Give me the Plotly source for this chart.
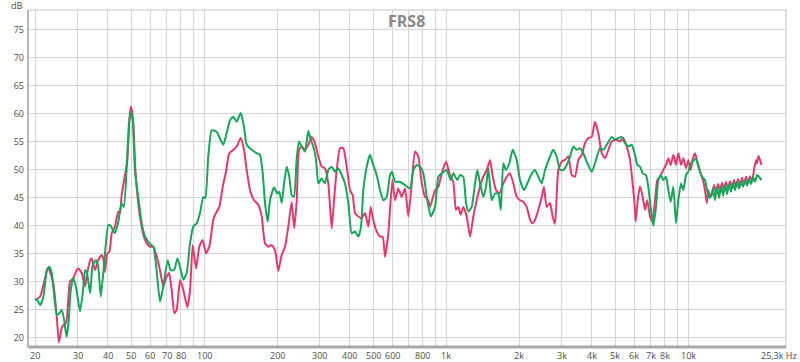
import math
import plotly.graph_objects as go

# ---------------- data ----------------
red_freq = [20.0, 20.3, 21.0, 21.6, 22.4, 22.7, 23.8, 24.6, 25.1, 25.8, 26.2, 26.9, 27.5, 27.9, 28.8,
            29.7, 30.2, 31.2, 32.2, 32.7, 33.8, 34.3, 35.4, 36.5, 37.7, 38.3, 38.9, 39.8, 40.6, 41.5,
            42.8, 44.2, 44.9, 45.6, 47.1, 48.1, 49.4, 50.0, 51.0, 51.8, 52.9, 54.3, 56.4, 57.9, 59.7,
            61.7, 63.7, 65.7, 67.8, 69.6, 71.6, 73.4, 75.3, 77.0, 79.5, 82.0, 85.2, 87.4, 89.7, 92.6,
            95.5, 98.6, 101.8, 105.0, 109.1, 110.9, 115.5, 119.3, 123.1, 127.0, 132.0, 136.3, 141.6,
            146.1, 149.9, 154.7, 160.7, 167.4, 172.9, 178.4, 184.1, 190.2, 196.2, 202.5, 209.1, 215.9,
            222.7, 230.0, 235.5, 241.3, 246.6, 253.0, 261.0, 269.4, 278.3, 287.1, 296.3, 306.0, 315.7,
            325.8, 336.6, 344.1, 353.0, 364.2, 375.9, 388.2, 400.6, 411.0, 420.1, 433.6, 447.8, 462.1,
            476.9, 487.9, 499.7, 516.4, 533.1, 546.9, 559.0, 576.9, 599.3, 614.9, 634.3, 655.1, 676.0,
            697.6, 720.6, 743.6, 767.4, 792.6, 818.1, 844.2, 857.9, 899.6, 928.3, 958.8, 998.5, 1037,
            1070, 1098, 1123, 1148, 1177, 1216, 1255, 1295, 1337, 1380, 1424, 1471, 1518, 1558, 1608,
            1659, 1723, 1779, 1836, 1895, 1957, 2019, 2084, 2152, 2222, 2273, 2328, 2404, 2482, 2535,
            2602, 2686, 2753, 2816, 2906, 3002, 3099, 3198, 3303, 3408, 3516, 3632, 3748, 3868, 3995,
            4121, 4254, 4393, 4535, 4681, 4831, 5066, 5229, 5396, 5572, 5750, 5876, 5988, 6071, 6189,
            6325, 6491, 6634, 6780, 6955, 7109, 7295, 7454, 7648, 7891, 8098, 8278, 8471, 8684, 8910,
            9107, 9343, 9548, 9796, 10011, 10233, 10464, 10676, 10915, 11211, 11510, 11738, 11930,
            12116, 12320, 12720, 12790, 13040, 13290, 13540, 13800, 14070, 14340, 14610, 14890, 15180,
            15470, 15770, 16070, 16380, 16690, 17010, 17340, 17670, 18010, 18360, 18710, 19070, 19250,
            19530, 19810, 20100]
red_db = [26.8, 26.9, 27.4, 29.2, 32.1, 32.6, 29.8, 23.8, 19.2, 21.8, 22.3, 22.7, 27.4, 30.1, 30.7,
          32.1, 32.4, 31.6, 29.2, 31.0, 33.9, 34.2, 32.1, 33.9, 34.8, 34.2, 31.8, 35.1, 35.4, 38.7,
          39.9, 42.6, 42.3, 45.5, 49.1, 51.5, 60.4, 61.3, 58.3, 51.2, 45.8, 41.7, 38.1, 36.9, 36.3,
          36.3, 34.5, 32.1, 29.2, 30.7, 31.6, 28.6, 24.4, 25.0, 30.4, 28.6, 25.5, 28.6, 36.6, 32.4,
          36.3, 37.5, 35.1, 36.3, 41.1, 42.0, 43.4, 47.0, 49.7, 53.0, 53.6, 54.2, 55.7,
          53.6, 50.0, 46.4, 44.6, 43.8, 41.7, 36.9, 36.3, 36.6, 35.7, 32.0, 34.8, 36.3,
          39.9, 44.3, 39.6, 44.6, 53.6, 54.2, 53.6, 54.5, 55.9, 54.8, 52.4, 50.6, 50.3,
          47.6, 39.6, 44.6, 50.0, 53.9, 53.9, 50.6, 46.4, 45.5, 42.3, 41.7, 41.4, 42.3,
          39.9, 43.4, 41.1, 39.0, 38.1, 38.1, 34.5, 38.7, 48.2, 44.6, 46.7, 45.2, 46.7,
          41.7, 47.6, 53.3, 52.4, 47.6, 45.2, 44.6, 43.4, 46.4, 47.0, 49.4, 51.5, 49.1,
          47.9, 42.9, 43.4, 42.0, 43.4, 41.7, 38.1, 41.7, 44.6, 47.0, 48.8, 50.0, 51.8, 48.8, 46.4,
          45.8, 47.6, 48.8, 49.4, 47.6, 45.2, 44.6, 44.3, 43.4, 41.1, 40.5, 41.1, 42.9, 45.2, 47.0,
          43.4, 44.1, 41.7, 40.4, 50.0, 51.5, 51.8, 52.4, 49.1, 48.8, 51.8, 52.7, 54.8, 55.7, 55.9,
          58.6, 56.6, 53.0, 52.1, 53.6, 55.1, 55.4, 55.1, 55.7, 54.2, 51.8, 48.2, 44.6, 40.8, 44.6,
          47.1, 45.2, 42.9, 44.6, 41.7, 40.8, 44.6, 48.2, 48.8, 50.0, 50.9, 52.1, 50.9, 52.7, 50.9,
          53.0, 50.9, 52.1, 50.3, 51.8, 50.0, 52.1, 53.0, 51.5, 49.7, 48.2, 46.4, 44.1,
          46.4, 45.2, 46.7, 47.3, 46.1, 47.5, 46.3, 47.7, 46.4, 47.9, 46.6, 48.0, 46.8,
          48.2, 47.1, 48.4, 47.2, 48.6, 47.4, 48.8, 47.6, 48.9, 48.0, 50.0, 51.8, 51.2,
          52.5, 51.8, 50.9]

green_freq = [20.0, 20.3, 21.0, 21.6, 22.4, 22.9, 23.4, 24.2, 24.6, 25.2, 25.8, 26.4, 27.0, 27.5, 28.1,
              28.8, 29.5, 30.7, 31.5, 32.2, 32.7, 33.8, 34.6, 35.7, 36.5, 37.4, 38.6, 40.2, 41.1, 42.8,
              44.2, 45.6, 46.6, 48.1, 48.9, 49.8, 50.7, 51.8, 53.4, 55.2, 57.0, 59.7, 61.7, 63.2, 65.7,
              67.8, 70.7, 72.7, 75.1, 77.5, 79.5, 82.0, 84.7, 87.4, 90.2, 93.2, 96.1, 99.2, 101.1,
              104.0, 107.5, 112.7, 115.5, 120.0, 123.9, 127.9, 132.0, 136.3, 141.6, 146.1, 149.9,
              157.2, 164.9, 170.1, 174.6, 178.4, 183.1, 187.1, 194.4, 200.6, 204.4, 209.1, 213.9,
              219.4, 224.8, 230.0, 235.0, 241.3, 246.6, 253.0, 261.0, 269.4, 275.7, 282.5, 289.9,
              296.3, 306.0, 315.7, 325.8, 336.6, 347.3, 358.4, 370.2, 382.0, 394.2, 407.1, 420.1,
              433.6, 444.8, 454.7, 469.7, 484.6, 499.7, 516.4, 533.1, 550.1, 568.2, 586.3, 597.6,
              614.9, 644.6, 676.0, 709.1, 731.7, 755.8, 779.8, 804.8, 831.4, 863.7, 899.6, 928.3,
              958.8, 1005, 1044, 1070, 1112, 1141, 1177, 1208, 1235, 1275, 1316, 1345, 1380, 1424,
              1461, 1493, 1543, 1592, 1643, 1681, 1723, 1767, 1824, 1884, 1957, 2019, 2098, 2165,
              2260, 2328, 2404, 2482, 2562, 2686, 2768, 2860, 2953, 3050, 3150, 3250, 3355, 3463,
              3573, 3689, 3808, 3995, 4121, 4323, 4462, 4608, 4831, 4985, 5144, 5313, 5483, 5660,
              5843, 6030, 6165, 6325, 6491, 6697, 6844, 7022, 7177, 7365, 7523, 7700, 7891, 8098,
              8278, 8471, 8684, 8910, 9107, 9343, 9548, 9796, 10011, 10260, 10464, 10750, 11025,
              11400, 11738, 11930, 12235, 12517, 12670, 12910, 13160, 13420, 13670, 13940, 14200,
              14480, 14750, 15030, 15320, 15620, 15920, 16220, 16540, 16850, 17180, 17510, 17840,
              18190, 18540, 18890, 19250, 19620, 20100]
green_db = [26.8, 26.9, 25.9, 27.1, 32.1, 32.7, 31.8, 26.2, 24.1, 24.4, 25.0, 23.2, 20.2, 22.6, 28.6,
            30.7, 29.2, 24.8, 28.0, 32.1, 31.8, 28.0, 33.0, 33.9, 32.7, 27.4, 33.3, 40.2, 40.0, 38.7,
            40.8, 44.1, 43.4, 52.4, 58.3, 60.4, 58.9, 49.7, 45.2, 40.5, 38.1, 36.8, 36.3, 33.3, 26.5,
            29.2, 33.9, 32.1, 32.1, 34.2, 32.7, 30.4, 31.6, 36.9, 39.9, 40.5, 42.3, 45.2, 45.0,
            52.4, 57.1, 56.8, 55.9, 54.5, 56.6, 58.9, 59.5, 58.6, 60.2, 57.7, 54.5,
            53.6, 53.0, 52.7, 49.4, 44.1, 40.8, 44.6, 46.9, 45.8, 46.1, 44.1, 47.6,
            50.6, 48.8, 45.5, 45.2, 52.1, 55.1, 54.2, 53.3, 57.0, 55.4, 54.2, 51.8,
            47.6, 48.5, 47.6, 50.0, 50.6, 49.7, 50.3, 49.1, 47.6, 44.1, 38.7, 39.0,
            38.1, 39.9, 46.4, 50.6, 52.7, 50.9, 49.1, 46.4, 44.6, 45.2, 49.1, 49.7,
            47.9, 47.9, 47.3, 46.7, 50.0, 50.9, 50.6, 49.4, 45.2, 41.7, 43.4, 48.8,
            49.4, 50.0, 48.2, 49.4, 48.2, 49.1, 48.8, 44.1, 42.6, 43.4, 47.6, 50.0, 47.6, 45.2,
            47.0, 50.3, 44.6, 45.8, 45.8, 42.9, 51.2, 50.0, 51.2, 53.6, 51.8, 48.2, 46.4, 47.6,
            49.4, 50.0, 48.8, 47.6, 50.0, 52.4, 53.6, 52.4, 50.0, 50.0, 50.9, 52.4, 54.2, 53.6,
            53.9, 53.0, 51.5, 49.7, 51.2, 53.9, 53.6, 54.5, 55.9, 55.4, 55.7, 55.9, 54.8, 54.2,
            54.5, 52.7, 50.9, 50.6, 49.4, 49.1, 47.0, 42.9, 40.0, 43.4, 48.2, 49.1, 48.2, 48.8,
            46.4, 44.3, 47.0, 40.5, 44.6, 47.6, 46.4, 49.1, 49.7, 51.2, 51.5, 52.1, 50.6,
            48.8, 48.2, 46.7, 45.0, 45.5, 46.8, 44.6, 47.0, 45.0, 47.1, 45.4, 47.3,
            45.7, 47.5, 46.1, 47.7, 46.4, 47.9, 46.7, 48.0, 47.0, 48.2, 47.2, 48.4,
            47.5, 48.7, 47.9, 49.1, 48.8, 48.2]

grid_freqs = [20, 30, 40, 50, 60, 70, 80, 90, 100, 200, 300, 400, 500, 600, 700, 800, 900,
              1000, 2000, 3000, 4000, 5000, 6000, 7000, 8000, 9000, 10000]
grid_labels = ["20", "30", "40", "50", "60", "70", "80", "", "100", "200", "300", "400", "500",
               "600", "", "800", "", "1k", "2k", "3k", "4k", "5k", "6k", "7k", "8k", "", "10k"]
y_ticks = [20, 25, 30, 35, 40, 45, 50, 55, 60, 65, 70, 75]

RED = "#e8386b"
GREEN = "#17a55a"
TXT = "#4d4d4d"

fig = go.Figure()
fig.add_trace(go.Scatter(x=red_freq, y=red_db, mode="lines",
                         line=dict(color=RED, width=2, shape="spline", smoothing=0.5),
                         showlegend=False, hoverinfo="skip"))
fig.add_trace(go.Scatter(x=green_freq, y=green_db, mode="lines",
                         line=dict(color=GREEN, width=2, shape="spline", smoothing=0.5),
                         showlegend=False, hoverinfo="skip"))

font_fam = "Open Sans, Liberation Sans, sans-serif"
fig.update_layout(
    width=800, height=362,
    margin=dict(l=28, r=14, t=10, b=15, autoexpand=False),
    paper_bgcolor="white", plot_bgcolor="white",
    font=dict(family=font_fam, size=9, color=TXT),
    xaxis=dict(type="log", range=[1.2721, 4.4043],
               tickmode="array", tickvals=grid_freqs, ticktext=[""] * len(grid_freqs),
               showgrid=True, gridcolor="#d6d6d6", gridwidth=1,
               ticks="", zeroline=False, showline=False, automargin=False),
    yaxis=dict(range=[18.39, 78.57], tickmode="array", tickvals=y_ticks,
               showgrid=True, gridcolor="#d6d6d6", gridwidth=1,
               ticks="", zeroline=False, showline=False, automargin=False,
               ticklabelstandoff=3,
               tickfont=dict(size=9, color=TXT)),
)

# x tick labels placed just under the frame
for f, lab in zip(grid_freqs, grid_labels):
    if lab:
        fig.add_annotation(text=lab, xref="x", yref="paper", x=math.log10(f), y=0,
                           xanchor="center", yanchor="middle", yshift=-8, showarrow=False,
                           font=dict(size=9, color=TXT))

# frame
fig.add_shape(type="rect", xref="paper", yref="paper", x0=0, x1=1, y0=0, y1=1,
              line=dict(color="#c4c4c4", width=1))
fig.add_shape(type="line", xref="paper", yref="paper", x0=0, x1=1, y0=0, y1=0,
              line=dict(color="#a9a9a9", width=3))
fig.add_shape(type="line", xref="paper", yref="paper", x0=0, x1=0, y0=0, y1=1,
              line=dict(color="#b5b5b5", width=2))

fig.add_annotation(text="FRS8", xref="paper", yref="paper", x=0.4987, y=0.9688,
                   yanchor="middle", xanchor="center", showarrow=False,
                   font=dict(family=font_fam, size=16, color="#8a8a8a", weight="bold"))
fig.add_annotation(text="dB", xref="paper", yref="paper", x=0, y=1, xanchor="right",
                   yanchor="middle", xshift=-3, yshift=5, showarrow=False,
                   font=dict(size=9, color=TXT))
fig.add_annotation(text="25,3k Hz", xref="paper", yref="paper", x=1, y=0, xanchor="right",
                   yanchor="middle", yshift=-8, xshift=13, showarrow=False,
                   font=dict(size=9, color=TXT))

fig.write_html("out.html", config={"displayModeBar": False},
               post_script="document.body.style.margin='0';document.body.style.padding='0';")
